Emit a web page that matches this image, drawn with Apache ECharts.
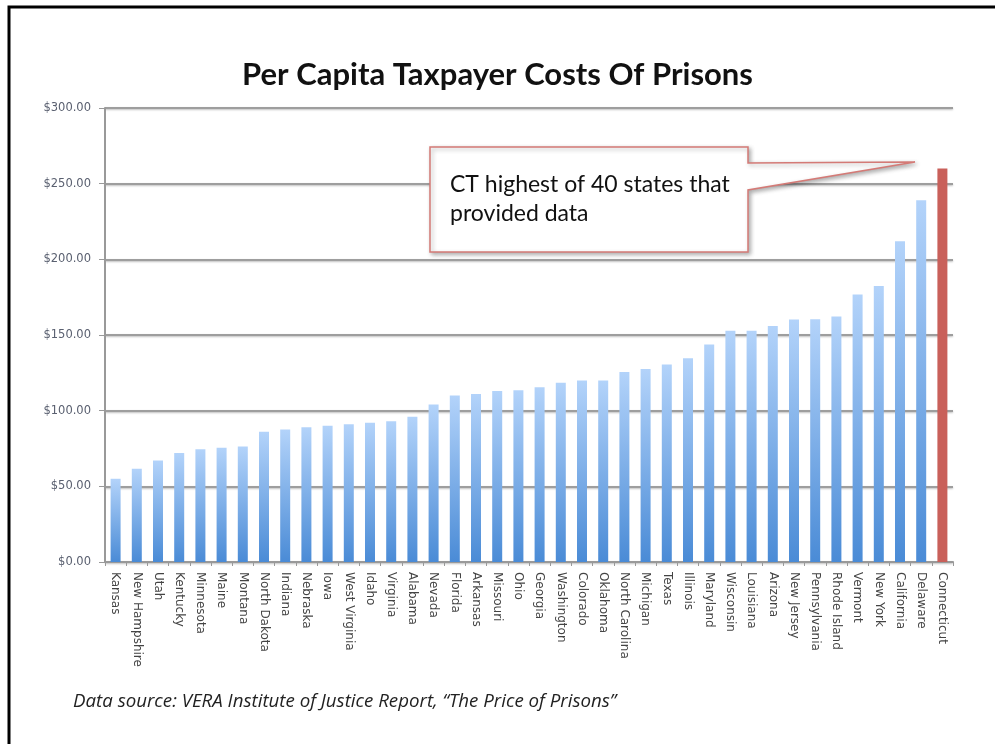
<!DOCTYPE html>
<html>
<head>
<meta charset="utf-8">
<script src="https://cdn.jsdelivr.net/npm/echarts@6/dist/echarts.min.js"></script>
<style>
  html, body { margin: 0; padding: 0; background: #fff; }
  #main { width: 995px; height: 744px; }
</style>
</head>
<body>
<div id="main"></div>
<script>
// states, lowest to highest
const states = ['Kansas', 'New Hampshire', 'Utah', 'Kentucky', 'Minnesota', 'Maine', 'Montana',
  'North Dakota', 'Indiana', 'Nebraska', 'Iowa', 'West Virginia', 'Idaho', 'Virginia', 'Alabama',
  'Nevada', 'Florida', 'Arkansas', 'Missouri', 'Ohio', 'Georgia', 'Washington', 'Colorado',
  'Oklahoma', 'North Carolina', 'Michigan', 'Texas', 'Illinois', 'Maryland', 'Wisconsin',
  'Louisiana', 'Arizona', 'New Jersey', 'Pennsylvania', 'Rhode Island', 'Vermont', 'New York',
  'California', 'Delaware', 'Connecticut'];

// per capita cost, dollars
const costs = [55, 61.6, 67, 72, 74.5, 75.5, 76.3, 86, 87.5, 89, 90, 91, 92, 93, 96,
  104, 110, 111, 113, 113.5, 115.5, 118.5, 120, 120, 125.5, 127.5, 130.5, 134.7, 143.7,
  152.8, 152.8, 156, 160.2, 160.4, 162.3, 176.8, 182.4, 212, 239, 260];

const highlight = 'Connecticut';
const yTicks = [0, 50, 100, 150, 200, 250, 300];

const chartTitle = 'Per Capita Taxpayer Costs Of Prisons';
const calloutText = 'CT highest of 40 states that\nprovided data';
const sourceText = 'Data source: VERA Institute of Justice Report, \u201CThe Price of Prisons\u201D';

var chartDom = document.getElementById('main');
var myChart = echarts.init(chartDom);

var blueFill = new echarts.graphic.LinearGradient(0, 0, 0, 1, [
  { offset: 0, color: '#b3d3fa' },
  { offset: 1, color: '#4a8bd6' }
]);

var barData = states.map(function (s, i) {
  if (s === highlight) {
    return { value: costs[i], itemStyle: { color: '#c9605a' } };
  }
  return { value: costs[i], itemStyle: { color: blueFill } };
});

var option = {
  backgroundColor: '#fff',
  animation: false,
  title: {
    text: chartTitle,
    left: 'center',
    top: 54,
    textStyle: {
      fontFamily: 'Lato',
      fontWeight: 'bold',
      fontSize: 31,
      color: '#111'
    }
  },
  grid: {
    left: 105,
    right: 42,
    top: 108,
    bottom: 182,
    containLabel: false
  },
  xAxis: {
    type: 'category',
    data: states,
    axisLine: { lineStyle: { color: '#999', width: 2 } },
    axisTick: { show: true, length: 4, lineStyle: { color: '#999' } },
    axisLabel: {
      rotate: -90,
      interval: 0,
      margin: 10,
      fontFamily: 'DejaVu Sans',
      fontSize: 12,
      color: '#444'
    }
  },
  yAxis: {
    type: 'value',
    min: yTicks[0],
    max: yTicks[yTicks.length - 1],
    interval: 50,
    axisLine: { show: true, lineStyle: { color: '#999', width: 2 } },
    axisTick: { show: true, length: 6, lineStyle: { color: '#999' } },
    axisLabel: {
      margin: 14,
      fontFamily: 'DejaVu Sans',
      fontSize: 11.5,
      color: '#5a6070',
      formatter: function (v) { return '$' + v.toFixed(2); }
    },
    splitLine: {
      lineStyle: {
        color: '#9e9e9e',
        width: 2,
        shadowColor: 'rgba(0,0,0,0.25)',
        shadowBlur: 2,
        shadowOffsetY: 1
      }
    }
  },
  series: [
    {
      type: 'bar',
      data: barData,
      barWidth: 10
    }
  ],
  graphic: [
    // frame (top and left edges)
    {
      type: 'polyline',
      shape: { points: [[9, 744], [9, 7], [995, 7]] },
      style: { stroke: '#000', lineWidth: 3, fill: null },
      z: 100
    },
    // callout box with pointer
    {
      type: 'polygon',
      shape: {
        points: [[430, 147], [748, 147], [748, 163], [915, 162], [748, 190], [748, 252], [430, 252]]
      },
      style: {
        fill: '#fff',
        stroke: '#d47a76',
        lineWidth: 1.5,
        shadowColor: 'rgba(0,0,0,0.3)',
        shadowBlur: 4,
        shadowOffsetX: 2,
        shadowOffsetY: 2
      },
      z: 50
    },
    {
      type: 'text',
      left: 450,
      top: 170,
      style: {
        text: calloutText,
        fontFamily: 'Lato',
        fontSize: 23,
        lineHeight: 29,
        fill: '#111'
      },
      z: 51
    },
    {
      type: 'text',
      left: 73,
      top: 692,
      style: {
        text: sourceText,
        fontFamily: 'Open Sans',
        fontStyle: 'italic',
        fontSize: 18.7,
        fill: '#222'
      },
      z: 51
    }
  ]
};

option && myChart.setOption(option);
</script>
</body>
</html>
